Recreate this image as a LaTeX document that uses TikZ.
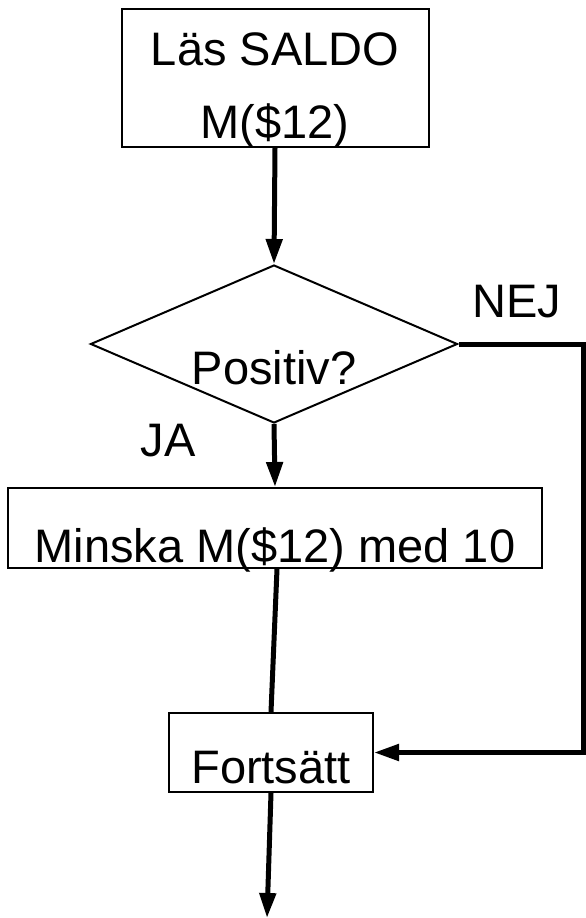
\documentclass[tikz,border=0pt]{standalone}
\usepackage{fontspec}
\setmainfont{Liberation Sans}
\usetikzlibrary{shapes.geometric,arrows.meta}

\begin{document}
\begin{tikzpicture}[x=1pt, y=-1pt, font=\fontsize{47}{73}\selectfont, ruta/.style={rectangle, draw, line width=2pt, inner sep=0pt, align=center}, beslut/.style={diamond, draw, line width=2pt, inner sep=0pt, aspect=2.32, minimum width=367pt, minimum height=158pt}, flode/.style={line width=5pt, -{Triangle[length=25pt, width=16pt]}}, linje/.style={line width=5pt}]

    \useasboundingbox (0,0) rectangle (586,918);

    \node[ruta, minimum width=307pt, text height=129pt, text depth=9pt] (las) at (275,78) {Läs SALDO\\M(\$12)};
    \node[beslut, text height=80pt, text depth=0pt] (positiv) at (274,344) {Positiv?};
    \node[ruta, minimum width=534pt, text height=74pt, text depth=6pt] (minska) at (275,528) {Minska M(\$12) med 10};
    \node[ruta, minimum width=204pt, text height=70pt, text depth=9pt] (fort) at (271,752.5) {Fortsätt};

    \node (nej) at (517,302) {NEJ};
    \node (ja) at (168,441) {JA};

    \coordinate (nejhorn) at (583,344);
    \coordinate (ut) at (267,918);

    \draw[flode] (las.south) -- (positiv.north);
    \draw[flode] (positiv.south) -- (minska.north);
    \draw[linje] ([xshift=2pt]minska.south) -- (fort.north);
    \draw[flode] (fort.south) -- (ut);
    \draw[flode] (positiv.east) -- (nejhorn) |- (fort.east);

\end{tikzpicture}
\end{document}
